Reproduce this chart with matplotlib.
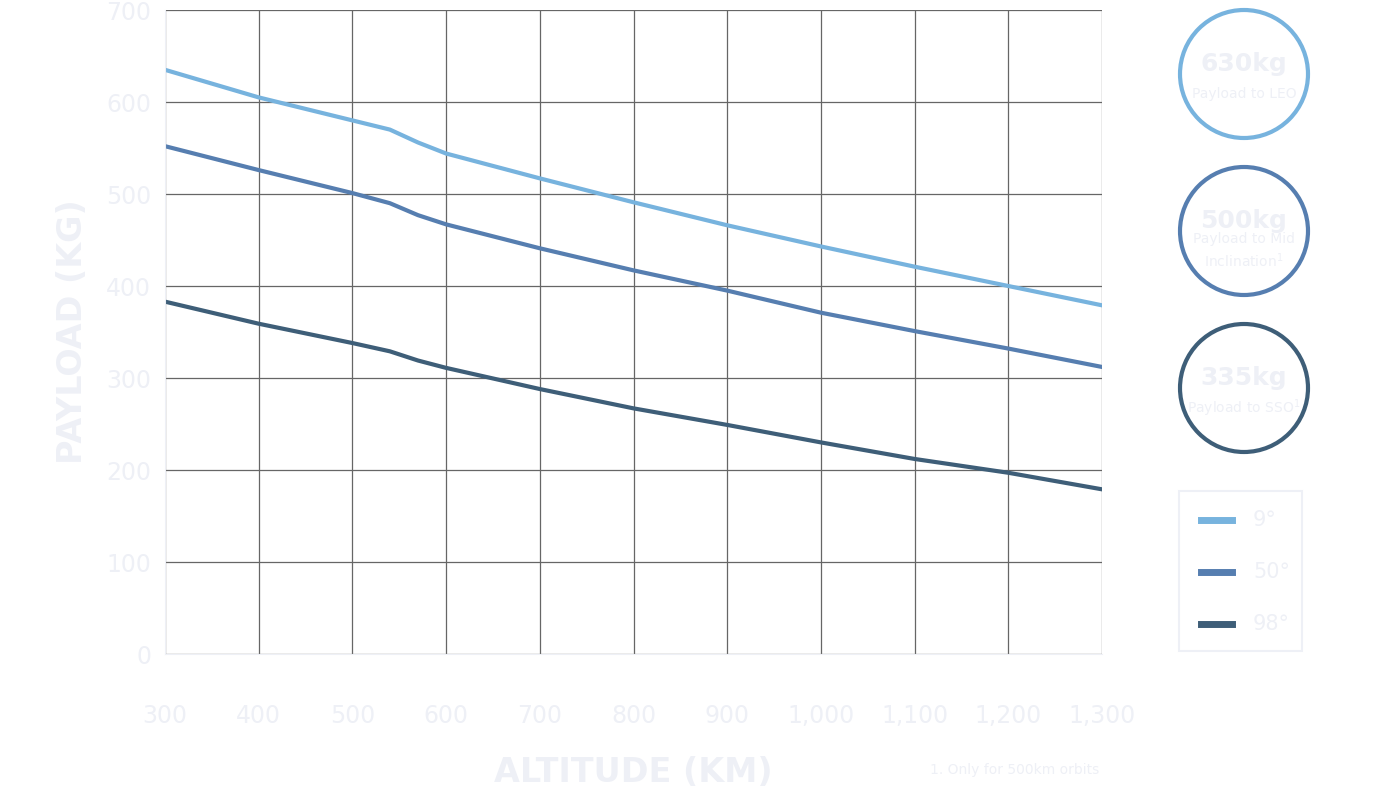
import matplotlib.pyplot as plt
from matplotlib.patches import Circle, Rectangle

# Payload vs altitude
altitude = [300, 400, 500, 540, 570, 600, 700, 800, 900, 1000, 1100, 1200, 1300]
payload_9 = [635, 605, 580, 570, 556, 544, 517, 491, 466, 443, 421, 400, 379]
payload_50 = [552, 526, 501, 490, 477, 467, 441, 417, 395, 371, 351, 332, 312]
payload_98 = [383, 359, 338, 329, 319, 311, 288, 267, 249, 230, 212, 197, 179]
series_labels = ["9°", "50°", "98°"]
colors = ["#77b3de", "#567eb0", "#3e5e78"]
x_ticks = [300, 400, 500, 600, 700, 800, 900, 1000, 1100, 1200, 1300]
x_tick_labels = ["300", "400", "500", "600", "700", "800", "900", "1,000", "1,100", "1,200", "1,300"]
y_ticks = [0, 100, 200, 300, 400, 500, 600, 700]
badge_values = ["630kg", "500kg", "335kg"]
badge_texts = ["Payload to LEO", "Payload to Mid\nInclination$^1$", "Payload to SSO$^1$"]

faint = "#eef0f6"
plt.rcParams["font.family"] = "DejaVu Sans"

fig = plt.figure(figsize=(14, 7.9), dpi=100)
ax = fig.add_axes([165 / 1400, 136 / 790, 937 / 1400, 644 / 790])

for ys, c in zip([payload_9, payload_50, payload_98], colors):
    ax.plot(altitude, ys, color=c, lw=3)

ax.set_xlim(300, 1300)
ax.set_ylim(0, 700)
ax.set_xticks(x_ticks)
ax.set_xticklabels(x_tick_labels)
ax.set_yticks(y_ticks)
ax.grid(True, color="#666666", lw=0.9)
ax.set_axisbelow(True)
for s in ax.spines.values():
    s.set_visible(False)
ax.spines["left"].set_visible(True)
ax.spines["left"].set_color(faint)
ax.spines["bottom"].set_visible(True)
ax.spines["bottom"].set_color(faint)
ax.tick_params(length=0, colors=faint, labelsize=17)
ax.tick_params(axis="x", pad=36)
ax.tick_params(axis="y", pad=10)
ax.set_xlabel("ALTITUDE (KM)", fontsize=24, fontweight="bold", color=faint, labelpad=20)
ax.set_ylabel("PAYLOAD (KG)", fontsize=24, fontweight="bold", color=faint, labelpad=12)

# overlay in pixel coordinates for badges and legend
ov = fig.add_axes([0, 0, 1, 1], facecolor="none")
ov.set_xlim(0, 1400)
ov.set_ylim(790, 0)
ov.axis("off")
for i, (val, txt) in enumerate(zip(badge_values, badge_texts)):
    cy = 74 + i * 157
    ov.add_patch(Circle((1244, cy), 64, fill=False, ec=colors[i], lw=3))
    ov.text(1244, cy - 10, val, ha="center", va="center", fontsize=18, fontweight="bold", color=faint)
    ov.text(1244, cy + 20, txt, ha="center", va="center", fontsize=10, color=faint, linespacing=1.3)

ov.add_patch(Rectangle((1179, 491), 123, 160, fill=False, ec=faint, lw=1.5))
for i, (lab, c) in enumerate(zip(series_labels, colors)):
    ly = 520 + i * 52
    ov.plot([1201, 1232], [ly, ly], color=c, lw=5)
    ov.text(1253, ly, lab, va="center", fontsize=15, color=faint)

ov.text(930, 770, "1. Only for 500km orbits", fontsize=10, color=faint, va="center")

fig.savefig("out.png", dpi=100)
